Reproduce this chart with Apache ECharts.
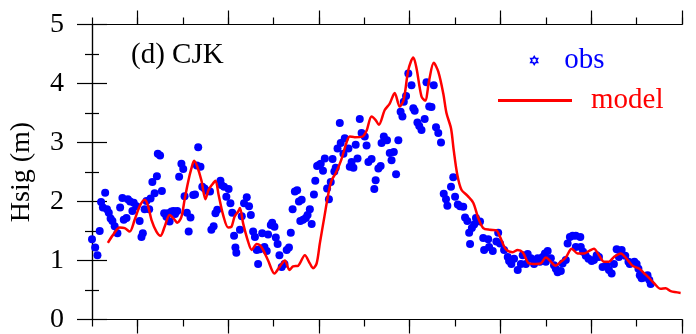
<!DOCTYPE html>
<html>
<head>
<meta charset="utf-8">
<script src="https://cdn.jsdelivr.net/npm/echarts@6/dist/echarts.min.js"></script>
<style>
  html, body { margin: 0; padding: 0; background: #fff; }
  #chart { width: 696px; height: 334px; }
</style>
</head>
<body>
<div id="chart"></div>
<script>
// x runs over 13 tick intervals (no labels in the original), y is Hsig in metres
const obsX = [
  0.00, 0.07, 0.12, 0.17, 0.20, 0.24, 0.29, 0.33, 0.37, 0.41, 0.45, 0.50, 0.56, 0.62, 0.67, 0.70,
  0.76, 0.79, 0.84, 0.89, 0.92, 0.98, 1.05, 1.09, 1.12, 1.16, 1.20, 1.26, 1.29, 1.33, 1.38, 1.43,
  1.45, 1.50, 1.54, 1.59, 1.64, 1.67, 1.71, 1.75, 1.80, 1.83, 1.88, 1.92, 1.97, 2.01, 2.04, 2.09,
  2.13, 2.17, 2.23, 2.27, 2.31, 2.34, 2.39, 2.43, 2.48, 2.54, 2.60, 2.63, 2.68, 2.72, 2.76, 2.83,
  2.85, 2.91, 2.96, 3.01, 3.05, 3.09, 3.13, 3.16, 3.18, 3.26, 3.30, 3.35, 3.41, 3.46, 3.50, 3.55,
  3.59, 3.63, 3.66, 3.70, 3.75, 3.80, 3.85, 3.88, 3.94, 3.97, 4.02, 4.05, 4.09, 4.13, 4.18, 4.24,
  4.29, 4.34, 4.38, 4.42, 4.47, 4.52, 4.56, 4.59, 4.62, 4.65, 4.71, 4.75, 4.80, 4.84, 4.89, 4.92,
  4.96, 5.00, 5.04, 5.09, 5.13, 5.18, 5.22, 5.26, 5.30, 5.34, 5.37, 5.41, 5.46, 5.48, 5.54, 5.57,
  5.65, 5.68, 5.72, 5.76, 5.81, 5.85, 5.90, 5.94, 6.01, 6.05, 6.09, 6.16, 6.22, 6.25, 6.31, 6.36,
  6.38, 6.43, 6.50, 6.56, 6.60, 6.65, 6.70, 6.75, 6.80, 6.84, 6.87, 6.92, 6.97, 7.04, 7.08, 7.11,
  7.17, 7.21, 7.26, 7.33, 7.37, 7.43, 7.48, 7.53, 7.58, 7.63, 7.69, 7.75, 7.80, 7.83, 7.91, 7.96,
  8.00, 8.06, 8.11, 8.18, 8.22, 8.27, 8.31, 8.33, 8.37, 8.42, 8.46, 8.55, 8.62, 8.64, 8.73, 8.75,
  8.83, 8.91, 8.95, 8.99, 9.08, 9.16, 9.19, 9.24, 9.30, 9.38, 9.45, 9.49, 9.56, 9.60, 9.67, 9.74,
  9.82, 9.87, 9.93, 9.98, 10.04, 10.00, 10.11, 10.18, 10.22, 10.26, 10.33, 10.37, 10.44, 10.48, 10.53, 10.59,
  10.66, 10.76, 10.66, 10.77, 10.82, 10.88, 10.94, 11.01, 11.06, 11.12, 11.17, 11.25, 11.34, 11.39, 11.45, 11.50,
  11.56, 11.67, 11.61, 11.75, 11.82, 11.85, 11.95, 12.00, 12.04, 12.07, 12.11, 12.17, 12.24, 12.28, 12.31
];
const obsY = [
  1.36, 1.22, 1.09, 1.50, 1.99, 1.90, 2.15, 1.87, 1.81, 1.71, 1.67, 1.58, 1.46, 1.90, 2.06, 1.69,
  1.72, 2.04, 2.00, 1.84, 1.98, 1.92, 1.67, 1.40, 1.46, 1.87, 2.01, 1.87, 2.05, 2.33, 2.14, 2.43,
  2.81, 2.78, 2.18, 1.80, 1.74, 1.80, 1.66, 1.83, 1.84, 1.79, 1.84, 2.42, 2.64, 2.55, 2.09, 1.81,
  1.49, 1.73, 2.11, 2.12, 2.61, 2.92, 2.59, 2.25, 2.22, 2.18, 2.17, 1.52, 1.58, 1.80, 1.86, 2.35,
  2.28, 2.25, 2.08, 2.21, 1.97, 1.81, 1.42, 1.22, 1.13, 1.52, 1.75, 1.97, 2.07, 1.92, 1.77, 1.49,
  1.40, 1.18, 0.94, 1.19, 1.46, 1.23, 1.16, 1.44, 1.60, 1.64, 1.57, 1.39, 1.28, 1.09, 0.89, 0.94,
  1.18, 1.22, 1.47, 1.87, 2.17, 2.19, 2.00, 1.67, 2.03, 1.69, 1.72, 1.77, 1.87, 1.62, 2.12, 2.35,
  2.60, 2.62, 2.64, 2.52, 2.73, 2.22, 2.04, 2.33, 2.72, 2.51, 2.57, 2.90, 3.33, 2.99, 2.81, 3.07,
  2.90, 2.59, 2.67, 2.57, 2.96, 2.73, 3.40, 3.16, 3.10, 2.95, 2.67, 2.72, 2.21, 2.36, 2.56, 2.60,
  2.99, 3.10, 3.04, 2.82, 2.70, 2.84, 2.46, 3.04, 3.52, 3.44, 3.69, 3.79, 4.17, 3.97, 3.58, 3.54,
  3.34, 3.28, 3.21, 3.40, 4.02, 3.61, 3.60, 3.97, 3.26, 3.16, 3.00, 2.13, 2.04, 1.93, 2.25, 2.41,
  2.08, 1.95, 1.92, 1.91, 1.73, 1.67, 1.47, 1.28, 1.55, 1.61, 1.72, 1.66, 1.38, 1.18, 1.36, 1.23,
  1.16, 1.32, 1.47, 1.29, 1.18, 1.06, 0.99, 0.94, 1.03, 0.84, 0.94, 1.09, 0.94, 1.11, 1.04, 0.94,
  1.04, 0.98, 1.06, 1.12, 1.16, 0.98, 1.04, 0.92, 0.86, 0.80, 0.82, 0.95, 1.01, 1.29, 1.40, 1.42,
  1.42, 1.40, 1.23, 1.23, 1.15, 1.08, 1.03, 0.99, 1.01, 1.09, 1.06, 0.89, 0.91, 0.84, 0.78, 0.94,
  1.19, 1.18, 1.06, 1.08, 0.98, 0.94, 0.98, 0.94, 0.86, 0.75, 0.70, 0.71, 0.75, 0.67, 0.60
];
const modelX = [
  0.35, 0.46, 0.61, 0.72, 0.83, 0.94, 1.05, 1.16, 1.23, 1.31, 1.42, 1.51, 1.60, 1.71, 1.81, 1.88,
  1.97, 2.04, 2.12, 2.19, 2.25, 2.32, 2.41, 2.50, 2.57, 2.64, 2.72, 2.79, 2.89, 3.00, 3.07, 3.14,
  3.22, 3.26, 3.33, 3.44, 3.52, 3.63, 3.70, 3.77, 3.88, 4.02, 4.14, 4.25, 4.35, 4.43, 4.54, 4.69,
  4.80, 4.87, 4.95, 5.02, 5.12, 5.21, 5.28, 5.37, 5.49, 5.60, 5.68, 5.79, 5.96, 6.05, 6.16, 6.25,
  6.32, 6.45, 6.56, 6.67, 6.78, 6.87, 6.97, 7.08, 7.15, 7.26, 7.34, 7.43, 7.53, 7.63, 7.74, 7.81,
  7.91, 7.97, 8.05, 8.14, 8.27, 8.40, 8.51, 8.62, 8.77, 8.91, 8.99, 9.12, 9.27, 9.38, 9.49, 9.63,
  9.78, 9.89, 10.00, 10.11, 10.21, 10.33, 10.44, 10.57, 10.70, 10.84, 10.95, 11.06, 11.17, 11.28, 11.39, 11.50,
  11.65, 11.80, 11.91, 12.06, 12.17, 12.28, 12.39, 12.53, 12.64, 12.75, 12.97
];
const modelY = [
  1.30, 1.43, 1.56, 1.55, 1.49, 1.69, 1.92, 2.03, 1.94, 1.69, 1.49, 1.42, 1.57, 1.77, 1.70, 1.64,
  1.74, 2.03, 2.34, 2.56, 2.69, 2.59, 2.36, 2.04, 2.20, 2.28, 2.35, 2.11, 1.77, 1.56, 1.57, 1.74,
  1.83, 1.89, 1.63, 1.32, 1.18, 1.28, 1.26, 1.18, 1.00, 0.78, 0.90, 1.00, 0.84, 0.90, 0.91, 1.09,
  0.95, 0.87, 0.95, 1.29, 1.74, 2.14, 2.36, 2.48, 2.70, 2.98, 3.10, 3.09, 3.10, 3.20, 3.44, 3.38,
  3.30, 3.55, 3.66, 3.84, 3.61, 3.73, 4.23, 4.44, 4.26, 3.78, 3.71, 4.06, 4.35, 4.20, 3.83, 3.50,
  3.24, 2.87, 2.45, 2.20, 2.10, 1.98, 1.72, 1.55, 1.52, 1.51, 1.40, 1.19, 1.14, 1.18, 1.14, 0.95,
  0.94, 0.95, 1.05, 0.98, 0.91, 0.98, 1.05, 1.20, 1.12, 1.12, 1.16, 1.20, 1.09, 0.98, 0.98, 1.06,
  1.12, 1.01, 0.91, 0.86, 0.78, 0.70, 0.61, 0.52, 0.53, 0.48, 0.45
];
const yTicks = [0, 1, 2, 3, 4, 5];
const longXTicks = [1, 3, 5, 7, 9, 11, 13];

const serif = "'Liberation Serif', 'Times New Roman', serif";
const hexagram =
  "path://M0,-10L2.89,-5L8.66,-5L5.77,0L8.66,5L2.89,5L0,10L-2.89,5L-8.66,5L-5.77,0L-8.66,-5L-2.89,-5Z";

const chart = echarts.init(document.getElementById("chart"), null, { renderer: "canvas" });

function xAxis(position, long) {
  return {
    type: "value",
    position,
    min: 0,
    max: 13,
    interval: 1,
    axisLine: { show: !long, lineStyle: { color: "#000", width: 1.2 } },
    axisTick: long
      ? { show: true, inside: false, length: 14, customValues: longXTicks, lineStyle: { color: "#000", width: 1.2 } }
      : { show: true, inside: false, length: 7, lineStyle: { color: "#000", width: 1.2 } },
    axisLabel: { show: false },
    splitLine: { show: false },
  };
}

function yAxis(position) {
  const left = position === "left";
  return {
    type: "value",
    position,
    min: 0,
    max: 5,
    interval: 1,
    name: left ? "Hsig (m)" : "",
    nameLocation: "middle",
    nameRotate: 90,
    nameGap: 56,
    nameTextStyle: { fontFamily: serif, fontSize: 28, color: "#000" },
    axisLine: { show: true, lineStyle: { color: "#000", width: 1.2 } },
    axisTick: { show: true, inside: false, length: 15, lineStyle: { color: "#000", width: 1.2 } },
    minorTick: { show: true, splitNumber: 2, length: 7, lineStyle: { color: "#000", width: 1.2 } },
    axisLabel: {
      show: left,
      margin: 28,
      fontFamily: serif,
      fontSize: 28,
      color: "#000",
      customValues: yTicks,
    },
    splitLine: { show: false },
    minorSplitLine: { show: false },
  };
}

chart.setOption({
  animation: false,
  backgroundColor: "#fff",
  grid: { left: 92, right: 14, top: 24.5, bottom: 14.5 },
  title: {
    text: "(d) CJK",
    left: 126,
    top: 36,
    textStyle: { fontFamily: serif, fontSize: 29, fontWeight: "normal", color: "#000" },
  },
  legend: [
    {
      left: 530,
      top: 46,
      padding: 0,
      itemWidth: 8,
      itemHeight: 8,
      data: [{ name: "obs", icon: hexagram, itemStyle: { color: "#fff", borderColor: "#0000ff", borderWidth: 1.5 } }],
      textStyle: { fontFamily: serif, fontSize: 29, color: "#0000ff", padding: [0, 0, 0, 21] },
    },
    {
      left: 498,
      top: 86,
      padding: 0,
      itemWidth: 74,
      itemHeight: 3,
      data: [{ name: "model", icon: "rect", itemStyle: { color: "#ff0000" } }],
      textStyle: { fontFamily: serif, fontSize: 29, color: "#ff0000", padding: [0, 0, 0, 14] },
    },
  ],
  xAxis: [xAxis("bottom", false), xAxis("bottom", true), xAxis("top", false), xAxis("top", true)],
  yAxis: [yAxis("left"), yAxis("right")],
  series: [
    {
      name: "obs",
      type: "scatter",
      xAxisIndex: 0,
      yAxisIndex: 0,
      symbol: "circle",
      symbolSize: 8,
      itemStyle: { color: "#0000ff", opacity: 1 },
      data: obsX.map((x, i) => [x, obsY[i]]),
      z: 2,
    },
    {
      name: "model",
      type: "line",
      xAxisIndex: 0,
      yAxisIndex: 0,
      symbol: "none",
      smooth: 0.3,
      lineStyle: { color: "#ff0000", width: 2.5 },
      itemStyle: { color: "#ff0000" },
      data: modelX.map((x, i) => [x, modelY[i]]),
      z: 3,
    },
  ],
});
</script>
</body>
</html>
